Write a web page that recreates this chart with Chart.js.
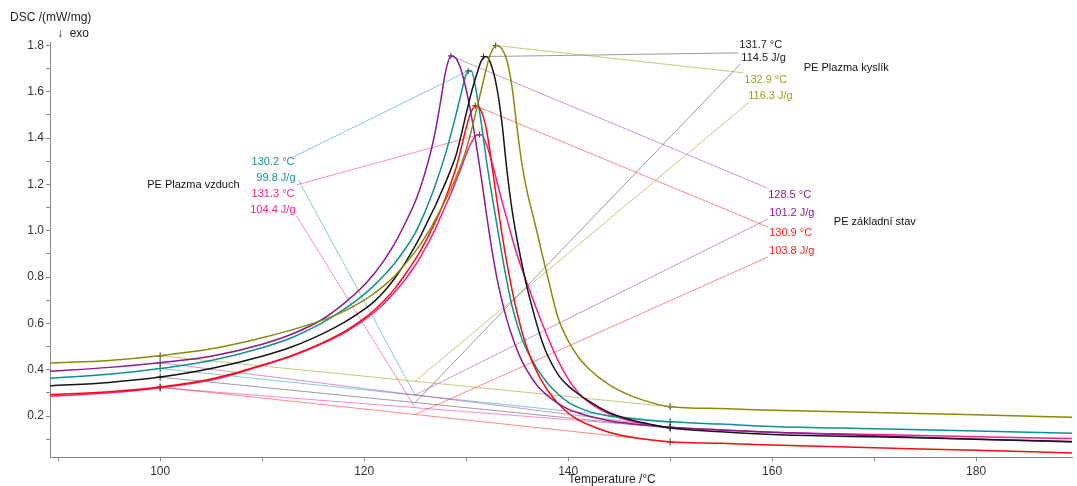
<!DOCTYPE html>
<html>
<head>
<meta charset="utf-8">
<script src="https://cdn.jsdelivr.net/npm/chart.js@4.4.1/dist/chart.umd.min.js"></script>
<style>
html,body{margin:0;padding:0;background:#fff;}
#wrap{width:1077px;height:486px;}
</style>
</head>
<body>
<div id="wrap"><canvas id="c" width="1077" height="486"></canvas></div>
<script>
// ---- data ----
const temps = [89.2, 95, 100, 105, 110, 113, 116, 118, 120, 121, 122, 123, 124, 125, 125.5, 126, 126.5, 127, 127.5, 128, 128.5, 129, 129.5, 130, 130.5, 131, 131.5, 132, 132.5, 133, 133.5, 134, 134.5, 135, 135.5, 136, 136.5, 137, 137.5, 138, 139, 140, 141, 142, 144, 146, 148, 150, 155, 160, 170, 180, 189.4];

const kyslikA = [0.429,0.44,0.46,0.49,0.538, 0.573,0.615,0.652,0.70, 0.73,0.765,0.805,0.855,0.91, 0.94,0.975,1.01,1.05,1.09,1.135,1.18,1.23,1.285,1.35, 1.43,1.52,1.61,1.705,1.775,1.80,1.785,1.735,1.62,1.44, 1.28,1.165,1.075,0.985,0.89,0.80, 0.625,0.525,0.455,0.405, 0.335,0.29,0.26,0.24, 0.232,0.225,0.215,0.205,0.195];
const kyslikB = [0.33,0.345,0.368,0.405,0.458, 0.50,0.557,0.603,0.66, 0.695,0.74,0.795,0.86,0.935, 0.975,1.02,1.065,1.11,1.16,1.21,1.265,1.325,1.41,1.505, 1.595,1.67,1.735,1.752,1.71,1.62,1.47,1.26,1.09,0.96, 0.85,0.75,0.665,0.585,0.515,0.46, 0.38,0.33,0.295,0.265, 0.215,0.185,0.165,0.148, 0.132,0.12,0.11,0.10,0.09];
const zakladA = [0.393,0.41,0.43,0.458,0.51, 0.555,0.62,0.685,0.765, 0.815,0.875,0.945,1.03,1.125, 1.185,1.255,1.335,1.435,1.56,1.69,1.755,1.745,1.695,1.61, 1.50,1.37,1.225,1.07,0.925,0.80,0.70,0.615,0.545,0.485, 0.435,0.395,0.36,0.33,0.307,0.287, 0.255,0.23,0.213,0.20, 0.18,0.168,0.159,0.152, 0.14,0.13,0.115,0.10,0.088];
const zakladB = [0.293,0.305,0.325,0.36,0.42, 0.463,0.518,0.563,0.622, 0.658,0.70,0.75,0.81,0.875, 0.912,0.952,0.995,1.04,1.09,1.145,1.205,1.27,1.355,1.445, 1.515,1.54,1.515,1.435,1.29,1.135,0.99,0.86,0.745,0.645, 0.56,0.49,0.432,0.385,0.345,0.31, 0.255,0.213,0.183,0.162, 0.13,0.11,0.097,0.088, 0.082,0.075,0.063,0.052,0.04];
const vzduchA = [0.363,0.38,0.405,0.44,0.495, 0.54,0.605,0.66,0.725, 0.765,0.81,0.86,0.92,0.99, 1.035,1.085,1.14,1.20,1.265,1.335,1.415,1.50,1.59,1.675, 1.69,1.60,1.46,1.30,1.16,1.03,0.90,0.78,0.675,0.595, 0.53,0.48,0.44,0.40,0.37,0.34, 0.295,0.26,0.237,0.22, 0.20,0.19,0.181,0.175, 0.165,0.155,0.145,0.135,0.126];
const vzduchB = [0.285,0.30,0.322,0.355,0.418, 0.46,0.515,0.558,0.615, 0.648,0.688,0.735,0.788,0.85, 0.885,0.925,0.965,1.01,1.06,1.11,1.16,1.215,1.27,1.33, 1.38,1.412,1.415,1.37,1.30,1.215,1.13,1.05,0.97,0.895, 0.83,0.77,0.71,0.65,0.595,0.54, 0.44,0.36,0.30,0.26, 0.21,0.18,0.162,0.15, 0.14,0.13,0.12,0.11,0.103];

const peakTemps = [132.9, 131.7, 128.5, 130.9, 130.2, 131.3];
const peakLabels = ['132.9 °C', '131.7 °C', '128.5 °C', '130.9 °C', '130.2 °C', '131.3 °C'];
const enthalpyLabels = ['116.3 J/g', '114.5 J/g', '101.2 J/g', '103.8 J/g', '99.8 J/g', '104.4 J/g'];
const integration = [100, 150];

const xTicks = [90, 100, 110, 120, 130, 140, 150, 160, 170, 180];
const yTicks = [0.1, 0.2, 0.3, 0.4, 0.5, 0.6, 0.7, 0.8, 0.9, 1.0, 1.1, 1.2, 1.3, 1.4, 1.5, 1.6, 1.7, 1.8];

const groupNames = ['PE Plazma kyslík', 'PE základní stav', 'PE Plazma vzduch'];
const groupNamePos = [[163.1, 1.703], [166.05, 1.038], [98.73, 1.198]];

// label anchors (data units): temp line end, temp text, enthalpy text, enthalpy line start
const tempLineEnd = [[157.17, 1.682], [156.68, 1.768], [159.51, 1.185], [159.61, 1.016], [113.07, 1.319], [113.37, 1.198]];
const tempTextPos = [[157.27, 1.651], [156.78, 1.803], [159.61, 1.155], [159.71, 0.990], [113.17, 1.297], [113.17, 1.159]];
const enthTextPos = [[157.66, 1.582], [156.98, 1.746], [159.71, 1.077], [159.71, 0.913], [113.27, 1.228], [113.27, 1.090]];
const enthLineStart = [[157.66, 1.552], [156.88, 1.720], [159.61, 1.051], [159.61, 0.887], [113.56, 1.219], [113.37, 1.064]];
const textAlign = ['left', 'left', 'left', 'left', 'right', 'right'];

// ---- styles ----
const series = [kyslikA, kyslikB, zakladA, zakladB, vzduchA, vzduchB];
const curveColors = ['#8a8a0a', '#151515', '#8a1a96', '#ff0a0a', '#0f8f8f', '#ff1a8c'];
const lightColors = ['rgba(160,160,40,0.6)', 'rgba(60,60,60,0.5)', 'rgba(150,50,170,0.5)', 'rgba(255,40,40,0.55)', 'rgba(20,150,150,0.5)', 'rgba(255,40,150,0.55)'];
const textColors = ['#a0a018', '#222222', '#8a1a96', '#ff2020', '#1a9090', '#ff1a8c'];

function valAt(arr, t) {
  return arr[temps.indexOf(t)];
}

const datasets = [];
series.forEach((arr, k) => {
  datasets.push({
    data: temps.map((t, i) => ({ x: t, y: arr[i] })),
    borderColor: curveColors[k], borderWidth: 1.5, pointRadius: 0,
    cubicInterpolationMode: 'monotone', fill: false
  });
});
series.forEach((arr, k) => {
  const y0 = valAt(arr, integration[0]);
  const y1 = valAt(arr, integration[1]);
  const mid = (integration[0] + integration[1]) / 2;
  const peakVal = Math.max(...arr);
  datasets.push({
    data: [{ x: integration[0], y: y0 }, { x: integration[1], y: y1 }],
    borderColor: lightColors[k], borderWidth: 1, pointStyle: 'cross', pointRadius: 3.5,
    pointBorderColor: '#333', pointBorderWidth: 1, fill: false
  });
  datasets.push({
    data: [{ x: peakTemps[k], y: peakVal }, { x: tempLineEnd[k][0], y: tempLineEnd[k][1] }],
    borderColor: lightColors[k], borderWidth: 1,
    pointStyle: 'cross', pointRadius: [3, 0], pointBorderColor: '#333', pointBorderWidth: 1, fill: false
  });
  datasets.push({
    data: [{ x: enthLineStart[k][0], y: enthLineStart[k][1] }, { x: mid, y: (y0 + y1) / 2 }],
    borderColor: lightColors[k], borderWidth: 1, pointRadius: 0, fill: false
  });
});

const FONT = '"Liberation Sans", Arial, sans-serif';

const textPlugin = {
  id: 'texts',
  afterDraw(chart) {
    const { ctx } = chart;
    const xs = chart.scales.x, ys = chart.scales.y;
    ctx.save();
    ctx.textBaseline = 'middle';
    ctx.font = '11px ' + FONT;
    for (let k = 0; k < series.length; k++) {
      ctx.fillStyle = textColors[k];
      ctx.textAlign = textAlign[k];
      ctx.fillText(peakLabels[k], xs.getPixelForValue(tempTextPos[k][0]), ys.getPixelForValue(tempTextPos[k][1]));
      ctx.fillText(enthalpyLabels[k], xs.getPixelForValue(enthTextPos[k][0]), ys.getPixelForValue(enthTextPos[k][1]));
    }
    ctx.fillStyle = '#111';
    ctx.textAlign = 'left';
    groupNames.forEach((n, i) => {
      ctx.fillText(n, xs.getPixelForValue(groupNamePos[i][0]), ys.getPixelForValue(groupNamePos[i][1]));
    });
    ctx.font = '12px ' + FONT;
    ctx.fillStyle = '#222';
    ctx.fillText('DSC /(mW/mg)', 10, 18);
    ctx.fillText('\u2193  exo', 57, 34);
    ctx.textAlign = 'center';
    ctx.fillText('Temperature /°C', (xs.left + xs.right) / 2 + 51, 480);
    ctx.restore();
  }
};

new Chart(document.getElementById('c'), {
  type: 'line',
  data: { datasets },
  options: {
    responsive: false, animation: false, devicePixelRatio: 1,
    layout: { padding: { top: 42, left: 0, right: 0, bottom: 0 } },
    plugins: { legend: { display: false }, tooltip: { enabled: false } },
    elements: { line: { tension: 0 } },
    scales: {
      x: {
        type: 'linear', min: 89.2, max: 189.4,
        afterBuildTicks: (ax) => { ax.ticks = xTicks.map(v => ({ value: v })); },
        afterFit: (ax) => { ax.height = 29; },
        grid: { drawOnChartArea: false, drawTicks: true, tickLength: 4, color: '#888' },
        border: { display: true, color: '#888', width: 1 },
        ticks: {
          padding: 3, color: '#333', font: { size: 12, family: FONT }, maxRotation: 0, autoSkip: false,
          callback: (v) => (v % 20 === 0 ? String(v) : '')
        }
      },
      y: {
        type: 'linear', min: 0.023, max: 1.815,
        afterBuildTicks: (ax) => { ax.ticks = yTicks.map(v => ({ value: v })); },
        afterFit: (ax) => { ax.width = 50; },
        grid: { drawOnChartArea: false, drawTicks: true, tickLength: 4, color: '#888' },
        border: { display: true, color: '#888', width: 1 },
        ticks: {
          padding: 2, color: '#333', font: { size: 12, family: FONT }, autoSkip: false,
          callback: (v) => (Math.round(v * 10) % 2 === 0 ? v.toFixed(1) : '')
        }
      }
    }
  },
  plugins: [textPlugin]
});
</script>
</body>
</html>
